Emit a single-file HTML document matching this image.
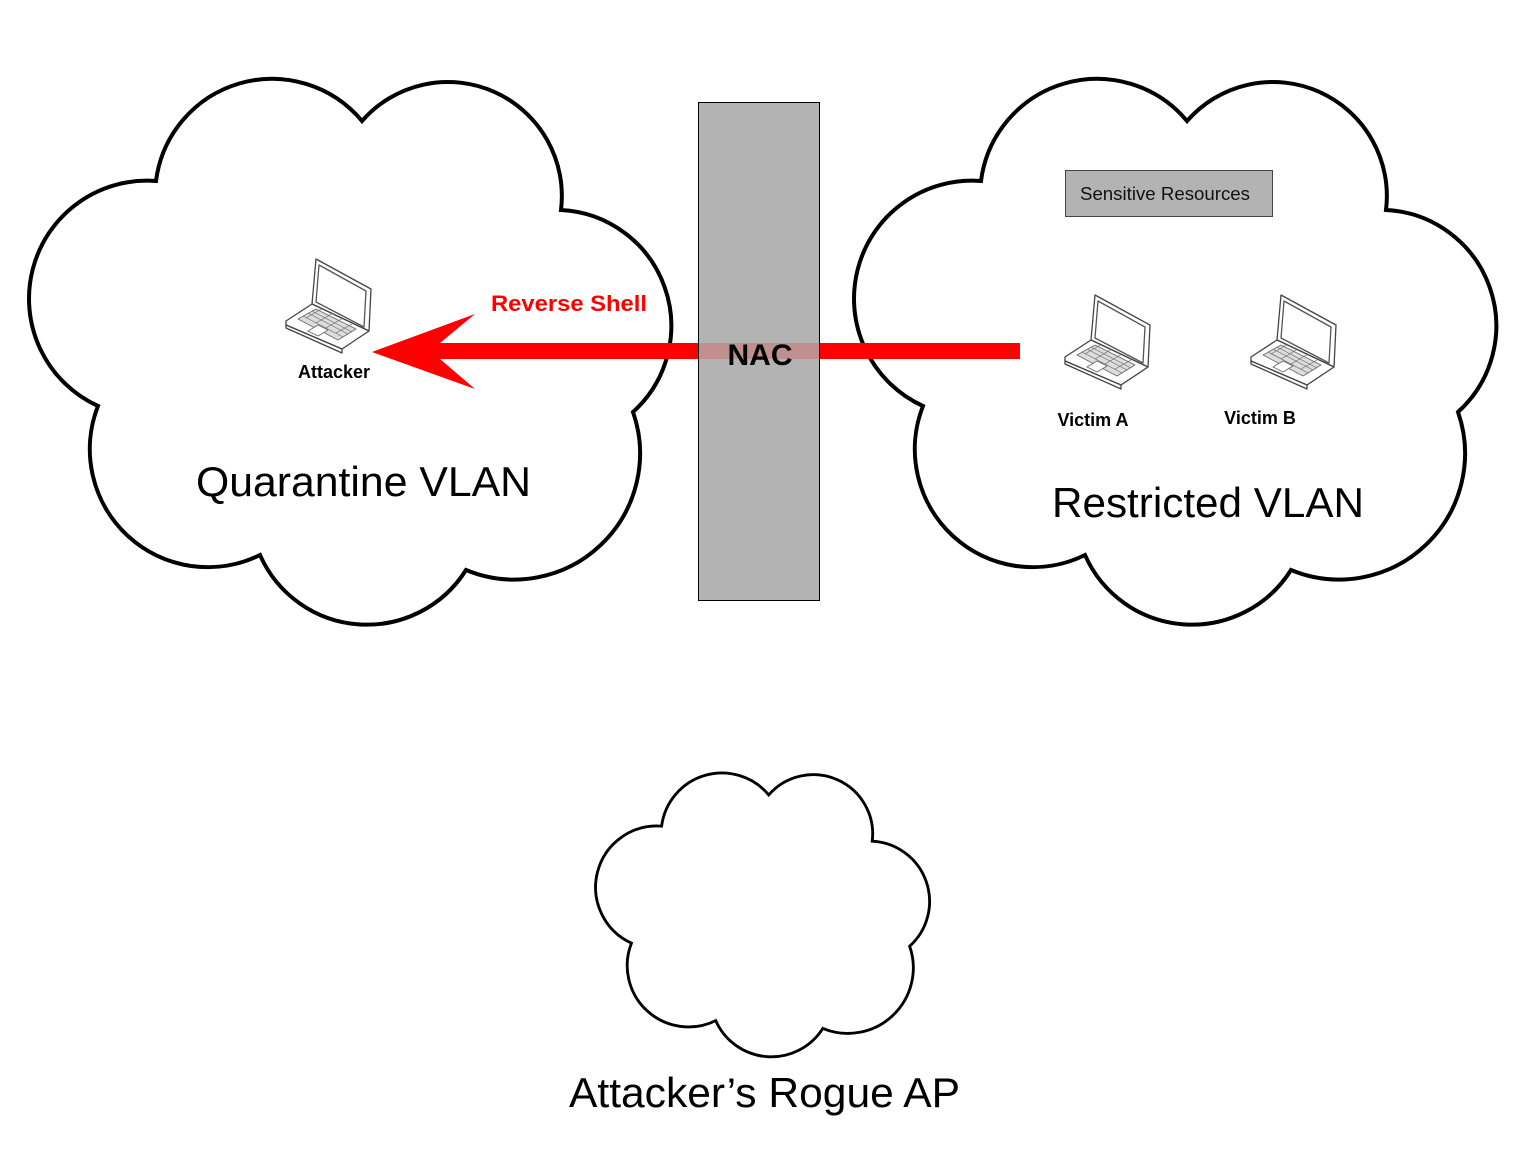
<!DOCTYPE html>
<html><head><meta charset="utf-8"><style>
html,body{margin:0;padding:0;background:#fff;}
svg{display:block;}
text{font-family:"Liberation Sans",sans-serif;}
</style></head><body>
<svg width="1526" height="1157" viewBox="0 0 1526 1157" xmlns="http://www.w3.org/2000/svg">
<defs>
<path id="cloud" d="M156,181 A117,117 0 0 1 362,121 A114,114 0 0 1 561,210 A116,116 0 0 1 633,412 A126,126 0 0 1 466,570 A117,117 0 0 1 260,555 A118,118 0 0 1 98,406 A118,118 0 0 1 156,181 Z"/>
<g id="laptop" fill="#fff" stroke="#444" stroke-width="1.3" stroke-linejoin="round">
<polygon points="30,0 85,30 83,72 26,45"/>
<polygon points="33,6 80,32 78,68 30,43" fill="#fff" stroke="#555"/>
<polygon points="0,62 26,45 83,72 56,90 0,66"/>
<polygon points="0,66 56,90 56,94 0,69"/>
<polygon points="12,60 30,50 70,70 52,81" fill="#ddd" stroke="#666" stroke-width="0.8"/>
<path d="M17,57 L57,78 M22,54 L62,75 M26,52 L66,73 M20,59 L37,49 M30,64 L47,54 M40,69 L57,59 M50,74 L66,65" stroke="#666" stroke-width="0.7" fill="none"/>
<polygon points="22,72 32,66 42,71 32,77" fill="#fff" stroke="#666" stroke-width="0.8"/>
</g>
</defs>

<use href="#cloud" fill="#fff" stroke="#000" stroke-width="4"/>
<use href="#cloud" transform="translate(825,0)" fill="#fff" stroke="#000" stroke-width="4"/>
<g transform="translate(580.5,732) scale(0.52)">
<use href="#cloud" fill="#fff" stroke="#000" stroke-width="5.5"/>
</g>

<rect x="440" y="343" width="580" height="16" fill="#ff0000"/>
<polygon points="372,352 475,314 440,343 440,359 475,389" fill="#ff0000"/>

<rect x="698.5" y="102.5" width="121" height="498" fill="#b3b3b3" stroke="#000" stroke-width="1"/>
<rect x="699" y="343" width="120" height="16" fill="rgba(255,0,0,0.2)"/>
<text x="760" y="365" font-size="30" font-weight="bold" text-anchor="middle" fill="#000">NAC</text>

<text x="491" y="311" font-size="22" font-weight="bold" fill="#ff0000" textLength="156" lengthAdjust="spacingAndGlyphs">Reverse Shell</text>

<use href="#laptop" transform="translate(286,259)"/>
<use href="#laptop" transform="translate(1065,295)"/>
<use href="#laptop" transform="translate(1251,295)"/>

<text x="334" y="378" font-size="18" font-weight="bold" text-anchor="middle">Attacker</text>
<text x="1093" y="426" font-size="18" font-weight="bold" text-anchor="middle">Victim A</text>
<text x="1260" y="424" font-size="18" font-weight="bold" text-anchor="middle">Victim B</text>

<rect x="1065.5" y="170.5" width="207" height="46" fill="#b3b3b3" stroke="#444" stroke-width="1"/>
<text x="1165" y="200" font-size="18" text-anchor="middle" fill="#111" textLength="170" lengthAdjust="spacingAndGlyphs">Sensitive Resources</text>

<text x="196" y="496" font-size="42" textLength="335" lengthAdjust="spacingAndGlyphs">Quarantine VLAN</text>
<text x="1052" y="517" font-size="42" textLength="312" lengthAdjust="spacingAndGlyphs">Restricted VLAN</text>
<text x="569" y="1107" font-size="42" textLength="391" lengthAdjust="spacingAndGlyphs">Attacker’s Rogue AP</text>
</svg>
</body></html>
